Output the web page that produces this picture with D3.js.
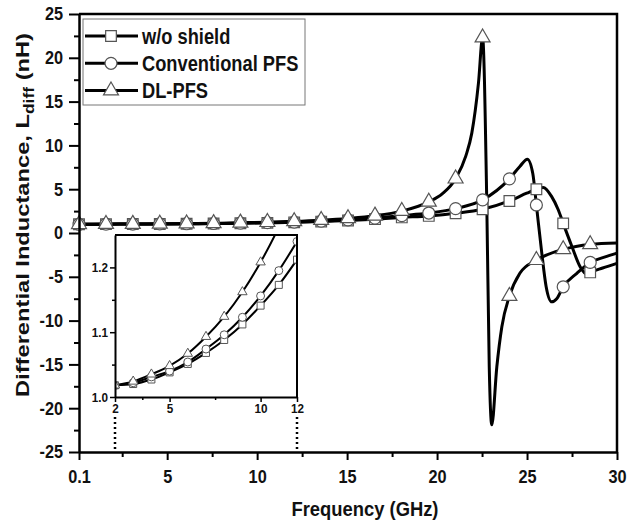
<!DOCTYPE html>
<html>
<head>
<meta charset="utf-8">
<script src="https://cdn.jsdelivr.net/npm/d3@7"></script>
<style>
  body { margin: 0; background: #fff; }
  svg text { font-family: "Liberation Sans Narrow", "Arial Narrow", "Liberation Sans", Arial, sans-serif; font-weight: bold; fill: #111; }
</style>
</head>
<body>
<svg id="chart" width="639" height="520"></svg>
<script>

// ---- data ----
var seriesNames = ["w/o shield", "Conventional PFS", "DL-PFS"];
var seriesSymbols = [d3.symbolSquare, d3.symbolCircle, d3.symbolTriangle];

// frequencies (GHz) where the main plot carries a marker
var markerFreqs = [0.1, 1.6, 3.09, 4.59, 6.08, 7.58, 9.07, 10.57, 12.06, 13.56, 15.05,
	16.55, 18.04, 19.54, 21.03, 22.53, 24.02, 25.52, 27.01, 28.51];

var woShield = [[0.1, 1.0], [1.6, 1.012], [3.09, 1.021], [4.59, 1.034], [6.08, 1.051],
	[7.58, 1.078], [9.07, 1.113], [10.57, 1.158], [12.06, 1.215], [13.56, 1.3],
	[15.05, 1.42], [16.55, 1.58], [18.04, 1.78], [19.54, 1.95], [21.03, 2.25],
	[22.53, 2.71], [24.02, 3.66], [24.98, 4.54], [25.52, 5.0], [25.9, 5.2],
	[26.37, 4.15], [26.74, 2.63], [27.01, 1.1], [27.5, -1.57], [27.95, -3.85],
	[28.32, -4.69], [28.51, -4.5], [29.2, -4.0], [30, -3.47]];

var conventional = [[0.1, 1.0], [1.6, 1.013], [3.09, 1.022], [4.59, 1.036], [6.08, 1.054],
	[7.58, 1.083], [9.07, 1.125], [10.57, 1.18], [12.06, 1.245], [13.56, 1.35],
	[15.05, 1.5], [16.55, 1.7], [18.04, 1.98], [19.54, 2.28], [21.03, 2.78],
	[22.53, 3.78], [24.02, 6.18], [24.6, 7.6], [25.02, 8.43], [25.32, 6.8],
	[25.52, 3.2], [25.82, -2.3], [26.06, -6.1], [26.37, -7.86], [26.65, -7.5],
	[27.01, -6.14], [27.77, -4.6], [28.51, -3.36], [29.3, -2.75], [30, -2.3]];

var dlPfs = [[0.1, 1.0], [1.6, 1.015], [3.09, 1.025], [4.59, 1.045], [6.08, 1.07],
	[7.58, 1.108], [9.07, 1.165], [10.57, 1.235], [12.06, 1.33], [13.56, 1.47],
	[15.05, 1.67], [16.55, 1.97], [18.04, 2.5], [19.54, 3.55], [20.3, 4.5],
	[21.03, 6.2], [21.6, 8.8], [21.93, 11.4], [22.3, 17.1], [22.53, 22.3],
	[22.76, 3.8], [22.9, -15.3], [23.04, -21.9], [23.32, -15.3], [23.6, -10.7],
	[24.02, -7.2], [24.6, -4.6], [25.52, -3.1], [27.01, -1.87], [28.51, -1.3],
	[30, -1.15]];

// inset (2-12 GHz zoom)
var insetFreqs = [2, 3, 4, 5, 6, 7, 8, 9, 10, 11, 12];
var insetWo = [1.018, 1.020, 1.027, 1.038, 1.051, 1.068, 1.088, 1.112, 1.141, 1.173, 1.212];
var insetConv = [1.018, 1.022, 1.031, 1.040, 1.054, 1.074, 1.096, 1.123, 1.156, 1.195, 1.240];
var insetDl = [1.018, 1.024, 1.035, 1.048, 1.067, 1.093, 1.124, 1.162, 1.208, 1.262, 1.325];

var xTicks = [0.1, 5, 10, 15, 20, 25, 30];
var xMinor = [2.5, 7.5, 12.5, 17.5, 22.5, 27.5];
var yTicks = [-25, -20, -15, -10, -5, 0, 5, 10, 15, 20, 25];
var yMinor = [-22.5, -17.5, -12.5, -7.5, -2.5, 2.5, 7.5, 12.5, 17.5, 22.5];
var insetXTicks = [2, 5, 10, 12];
var insetXMinor = [3.5, 7.5];
var insetYTicks = [1.0, 1.1, 1.2];
var insetYMinor = [1.05, 1.15];

// ---- layout ----
var svg = d3.select("#chart");

var x = d3.scaleLinear().domain([0.1, 30]).range([79, 617]);
var y = d3.scaleLinear().domain([-25, 25]).range([452, 14]);
var ix = d3.scaleLinear().domain([2, 12]).range([115, 297]);
var iy = d3.scaleLinear().domain([1.0, 1.25]).range([397, 235]);

function isMarker(f) {
	return markerFreqs.some(function(m) { return Math.abs(m - f) < 1e-6; });
}

// the original lettering is a narrow face; squeeze the fallback to match
function condense(sel, factor) {
	sel.each(function() {
		var w = this.getComputedTextLength();
		d3.select(this).attr("textLength", w * factor).attr("lengthAdjust", "spacingAndGlyphs");
	});
}

// ---- main curves ----
var mainLine = d3.line()
	.x(function(d) { return x(d[0]); })
	.y(function(d) { return y(d[1]); })
	.curve(d3.curveMonotoneX);

var mainSeries = [woShield, conventional, dlPfs];

var curves = svg.append("g");
mainSeries.forEach(function(s) {
	curves.append("path").datum(s)
		.attr("d", mainLine)
		.attr("fill", "none")
		.attr("stroke", "#000")
		.attr("stroke-width", 3)
		.attr("stroke-linejoin", "round");
});

mainSeries.forEach(function(s, i) {
	curves.selectAll(null).data(s.filter(function(d) { return isMarker(d[0]); }))
		.enter().append("path")
		.attr("transform", function(d) { return "translate(" + x(d[0]) + "," + y(d[1]) + ")"; })
		.attr("d", d3.symbol().type(seriesSymbols[i]).size([114, 113, 97][i]))
		.attr("fill", "#fff")
		.attr("stroke", "#555")
		.attr("stroke-width", 1.2);
});

// ---- main axes ----
var gx = svg.append("g").attr("transform", "translate(0,452)")
	.call(d3.axisBottom(x).tickValues(xTicks).tickSize(8).tickSizeOuter(0)
		.tickFormat(function(d) { return d === 0.1 ? "0.1" : d; }));
svg.append("g").attr("transform", "translate(0,452)")
	.call(d3.axisBottom(x).tickValues(xMinor).tickSize(5).tickFormat(""))
	.select(".domain").remove();
var gy = svg.append("g").attr("transform", "translate(79,0)")
	.call(d3.axisLeft(y).tickValues(yTicks).tickSize(10).tickSizeOuter(0)
		.tickFormat(function(d) { return String(d); }));
svg.append("g").attr("transform", "translate(79,0)")
	.call(d3.axisLeft(y).tickValues(yMinor).tickSize(5).tickFormat(""))
	.select(".domain").remove();

svg.selectAll(".domain").attr("stroke-width", 2.5);
svg.selectAll(".tick line").attr("stroke-width", 2);
gx.selectAll("text").attr("font-size", 18.5).attr("y", 31).attr("dy", 0);
gy.selectAll("text").attr("font-size", 18.5).attr("x", -16);
condense(gx.selectAll("text"), 0.88);
condense(gy.selectAll("text"), 0.88);

// top and right frame
svg.append("path")
	.attr("d", "M" + x(0.1) + "," + y(25) + "H" + x(30) + "V" + y(-25))
	.attr("fill", "none").attr("stroke", "#000").attr("stroke-width", 2.5);

// axis titles
var xt = svg.append("text").attr("x", 365).attr("y", 516)
	.attr("text-anchor", "middle").attr("font-size", 21).text("Frequency (GHz)");
xt.attr("textLength", 147).attr("lengthAdjust", "spacingAndGlyphs");

var yt = svg.append("text").attr("transform", "translate(29,215) rotate(-90)")
	.attr("text-anchor", "middle").attr("font-size", 19)
	.attr("textLength", 364).attr("lengthAdjust", "spacingAndGlyphs");
yt.append("tspan").text("Differential Inductance, L");
yt.append("tspan").attr("font-size", 14).attr("dy", 5).text("diff");
yt.append("tspan").attr("dy", -5).text(" (nH)");

// ---- legend ----
var legend = svg.append("g");
legend.append("rect").attr("x", 83).attr("y", 19).attr("width", 222).attr("height", 86)
	.attr("fill", "#fff").attr("stroke", "#777").attr("stroke-width", 1);
seriesNames.forEach(function(name, i) {
	var ly = 36 + i * 27.3;
	legend.append("line").attr("x1", 85).attr("x2", 138).attr("y1", ly).attr("y2", ly)
		.attr("stroke", "#000").attr("stroke-width", 3);
	legend.append("path").attr("transform", "translate(111," + ly + ")")
		.attr("d", d3.symbol().type(seriesSymbols[i]).size([114, 113, 97][i]))
		.attr("fill", "#fff").attr("stroke", "#555").attr("stroke-width", 1.2);
	legend.append("text").attr("x", 142).attr("y", ly).attr("dy", "0.36em")
		.attr("font-size", 21.5).text(name);
});
condense(legend.selectAll("text"), 0.85);

// ---- inset ----
var inset = svg.append("g");
inset.append("rect").attr("x", 115).attr("y", 235).attr("width", 182).attr("height", 162)
	.attr("fill", "#fff");
inset.append("clipPath").attr("id", "insetClip")
	.append("rect").attr("x", 115).attr("y", 235).attr("width", 182).attr("height", 162);

var insetLine = d3.line()
	.x(function(d) { return ix(d[0]); })
	.y(function(d) { return iy(d[1]); })
	.curve(d3.curveMonotoneX);

var insetSeries = [insetWo, insetConv, insetDl].map(function(vals) {
	return insetFreqs.map(function(f, j) { return [f, vals[j]]; });
});

var ic = inset.append("g").attr("clip-path", "url(#insetClip)");
insetSeries.forEach(function(s, i) {
	ic.append("path").datum(s).attr("d", insetLine)
		.attr("fill", "none").attr("stroke", "#000").attr("stroke-width", 2);
});
insetSeries.forEach(function(s, i) {
	ic.selectAll(null).data(s).enter().append("path")
		.attr("transform", function(d) { return "translate(" + ix(d[0]) + "," + iy(d[1]) + ")"; })
		.attr("d", d3.symbol().type(seriesSymbols[i]).size([49, 50, 38][i]))
		.attr("fill", "#fff").attr("stroke", "#555").attr("stroke-width", 1);
});

var igx = inset.append("g").attr("transform", "translate(0,397)")
	.call(d3.axisBottom(ix).tickValues(insetXTicks).tickSize(5).tickSizeOuter(0));
inset.append("g").attr("transform", "translate(0,397)")
	.call(d3.axisBottom(ix).tickValues(insetXMinor).tickSize(3).tickFormat(""))
	.select(".domain").remove();
var igy = inset.append("g").attr("transform", "translate(115,0)")
	.call(d3.axisLeft(iy).tickValues(insetYTicks).tickSize(5).tickSizeOuter(0)
		.tickFormat(d3.format(".1f")));
inset.append("g").attr("transform", "translate(115,0)")
	.call(d3.axisLeft(iy).tickValues(insetYMinor).tickSize(3).tickFormat(""))
	.select(".domain").remove();
inset.selectAll(".domain").attr("stroke-width", 2);
inset.selectAll(".tick line").attr("stroke-width", 1.5);
igx.selectAll("text").attr("font-size", 13).attr("dy", "0.6em");
igy.selectAll("text").attr("font-size", 13).attr("x", -7);
condense(igx.selectAll("text"), 0.9);
condense(igy.selectAll("text"), 0.9);
inset.append("path")
	.attr("d", "M115,235H297V397")
	.attr("fill", "none").attr("stroke", "#000").attr("stroke-width", 2);

// dotted leaders from the inset ends down to the main axis
[2, 12].forEach(function(f) {
	inset.append("line").attr("x1", ix(f)).attr("x2", ix(f)).attr("y1", 417).attr("y2", 450)
		.attr("stroke", "#000").attr("stroke-width", 2.5).attr("stroke-dasharray", "2,3");
});

</script>
</body>
</html>
